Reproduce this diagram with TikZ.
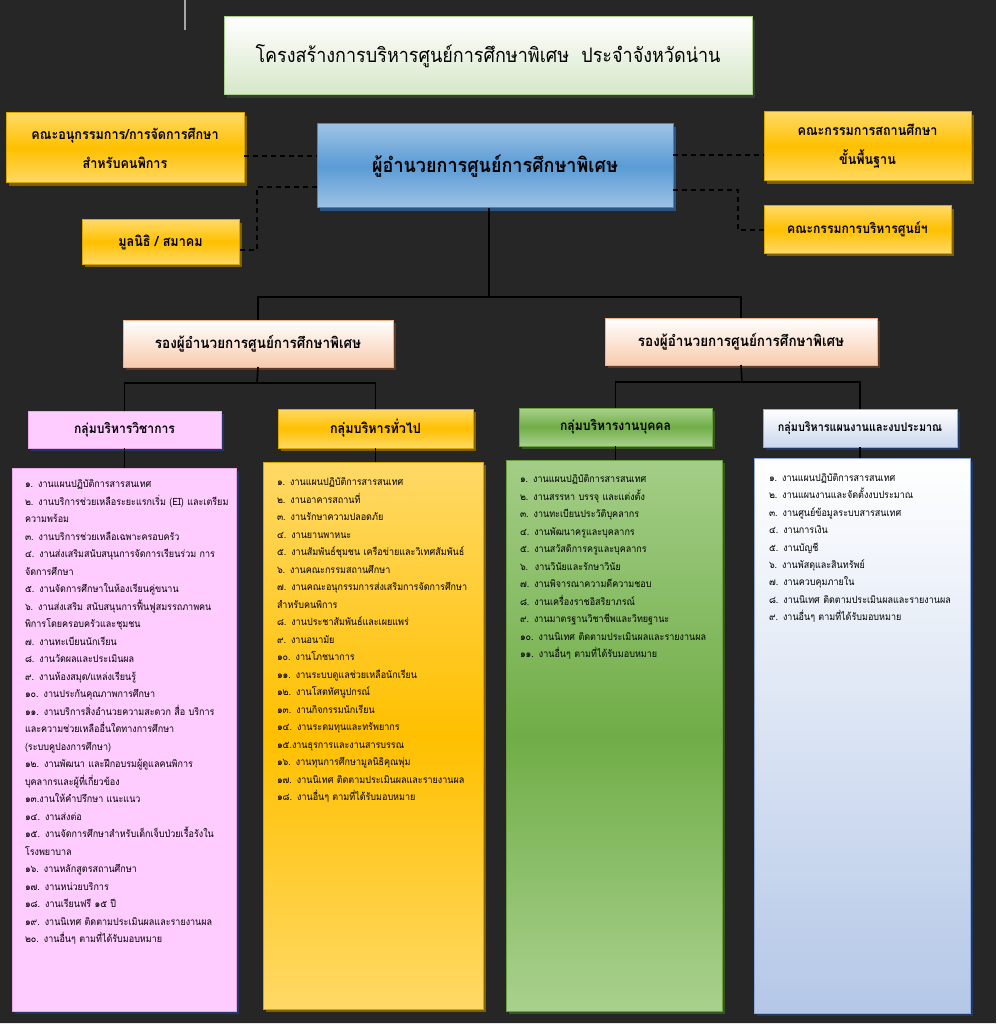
\documentclass[tikz,border=0pt]{standalone}
\usepackage{fontspec}
\setmainfont[Script=Thai, FakeStretch=0.9]{Loma}
\usetikzlibrary{shadows}
\definecolor{bg}{HTML}{262626}
\definecolor{ylo}{HTML}{FFD966}
\definecolor{yhi}{HTML}{FFC000}
\definecolor{yborder}{HTML}{D9A600}
\definecolor{yshadow}{HTML}{7F6000}
\definecolor{bluelo}{HTML}{9DC3E6}
\definecolor{bluehi}{HTML}{5B9BD5}
\definecolor{blueborder}{HTML}{4F81BD}
\definecolor{blueshadow}{HTML}{2C5480}
\definecolor{titlebot}{HTML}{D6E7C8}
\definecolor{titleborder}{HTML}{A9D18E}
\definecolor{titleshadow}{HTML}{34402C}
\definecolor{peach}{HTML}{F8CBAD}
\definecolor{peachborder}{HTML}{F4B183}
\definecolor{peachshadow}{HTML}{5E3A24}
\definecolor{pinkfill}{HTML}{FFCCFF}
\definecolor{pinkborder}{HTML}{E8A8E8}
\definecolor{navyshadow}{HTML}{1F3864}
\definecolor{glo}{HTML}{A9D18E}
\definecolor{ghi}{HTML}{70AD47}
\definecolor{gborder}{HTML}{6AA040}
\definecolor{gshadow}{HTML}{38561F}
\definecolor{bwbot}{HTML}{B4C7E7}
\definecolor{bwborder}{HTML}{8FAADC}
\begin{document}
\begin{tikzpicture}[x=1pt,y=-1pt,
  box/.style={draw, line width=1pt, inner sep=0pt, outer sep=0pt, anchor=north west, align=center},
  shad/.style={general shadow={fill=#1, shadow xshift=3pt, shadow yshift=-3pt}},
  ybox/.style={box, draw=yborder, top color=ylo, bottom color=ylo, middle color=yhi, shad=yshadow,
     font=\fontsize{14}{29}\selectfont\bfseries},
  depbox/.style={box, draw=peachborder, top color=white, bottom color=peach, shad=peachshadow,
     font=\fontsize{15}{18}\selectfont\bfseries},
  grpbox/.style={box, font=\fontsize{13.5}{16}\selectfont\bfseries},
  listtxt/.style={anchor=base west, inner sep=0pt, outer sep=0pt, align=left, text width=240pt,
     font=\fontsize{10}{17.5}\selectfont},
  conn/.style={draw=black, line width=1.6pt},
  dsh/.style={draw=black, line width=1.6pt, dash pattern=on 5pt off 4pt},
]
\fill[bg] (0,0) rectangle (996,1024);
\useasboundingbox (0,0) rectangle (996,1024);
\fill[black!10] (0,1022.5) rectangle (996,1024);
\draw[line width=1.5pt, black!35] (185,0) -- (185,30);

% top level
\node[box, draw=titleborder, top color=white, bottom color=titlebot, shad=titleshadow,
  minimum width=528, minimum height=78, font=\fontsize{20}{24}\selectfont] (title) at (224,17)
  {โครงสร้างการบริหารศูนย์การศึกษาพิเศษ\ \ ประจำจังหวัดน่าน};
\node[box, draw=blueborder, top color=bluelo, bottom color=bluelo, middle color=bluehi, shad=blueshadow,
  minimum width=356, minimum height=84, font=\fontsize{20}{24}\selectfont\bfseries] (dir) at (317,124)
  {ผู้อำนวยการศูนย์การศึกษาพิเศษ};
\node[ybox, minimum width=238, minimum height=70] (sub1) at (6,113)
  {คณะอนุกรรมการ/การจัดการศึกษา\\สำหรับคนพิการ};
\node[ybox, minimum width=157, minimum height=44] (found) at (82,220) {มูลนิธิ / สมาคม};
\node[ybox, minimum width=207, minimum height=69] (sub2) at (764,112)
  {คณะกรรมการสถานศึกษา\\ขั้นพื้นฐาน};
\node[ybox, minimum width=187, minimum height=47, font=\fontsize{13.5}{16}\selectfont\bfseries] (sub3) at (764,206) {คณะกรรมการบริหารศูนย์ฯ};

% deputies
\node[depbox, minimum width=270, minimum height=47] (depL) at (123,320) {รองผู้อำนวยการศูนย์การศึกษาพิเศษ};
\node[depbox, minimum width=272, minimum height=47] (depR) at (605,318) {รองผู้อำนวยการศูนย์การศึกษาพิเศษ};

% group headers
\node[grpbox, draw=pinkborder, fill=pinkfill, shad=navyshadow, minimum width=193, minimum height=37] (pinkH) at (28,411) {กลุ่มบริหารวิชาการ};
\node[grpbox, draw=yborder, top color=ylo, bottom color=ylo, middle color=yhi, shad=yshadow, minimum width=195, minimum height=39,
  font=\fontsize{14}{16}\selectfont\bfseries] (yelH) at (278,409) {กลุ่มบริหารทั่วไป};
\node[grpbox, draw=gborder, top color=glo, bottom color=glo, middle color=ghi, shad=gshadow, minimum width=193, minimum height=38] (grnH) at (519,408) {กลุ่มบริหารงานบุคคล};
\node[grpbox, draw=bwborder, top color=white, bottom color=bwbot!70, shad=navyshadow, minimum width=194, minimum height=38,
  font=\fontsize{12}{14}\selectfont\bfseries] (bluH) at (763,409) {กลุ่มบริหารแผนงานและงบประมาณ};

% list boxes
\node[box, draw=pinkborder, fill=pinkfill, shad=navyshadow, minimum width=224, minimum height=543] (pinkL) at (12,468) {};
\node[box, draw=yborder, top color=ylo, bottom color=ylo, middle color=yhi, shad=yshadow, minimum width=220, minimum height=547] (yelL) at (263,462) {};
\node[box, draw=gborder, top color=glo!90!ghi, bottom color=glo, middle color=ghi, shad=gshadow, minimum width=216, minimum height=551] (grnL) at (506,460) {};
\node[box, draw=bwborder, top color=white, bottom color=bwbot, shad=navyshadow, minimum width=216, minimum height=555] (bluL) at (754,458) {};

% list texts
\node[listtxt] (pinkT) at (25,487.5) {%
๑. งานแผนปฏิบัติการสารสนเทศ\\
๒. งานบริการช่วยเหลือระยะแรกเริ่ม (EI) และเตรียม\\
ความพร้อม\\
๓. งานบริการช่วยเหลือเฉพาะครอบครัว\\
๔. งานส่งเสริมสนับสนุนการจัดการเรียนร่วม การ\\
จัดการศึกษา\\
๕. งานจัดการศึกษาในห้องเรียนคู่ขนาน\\
๖. งานส่งเสริม สนับสนุนการฟื้นฟูสมรรถภาพคน\\
พิการโดยครอบครัวและชุมชน\\
๗. งานทะเบียนนักเรียน\\
๘. งานวัดผลและประเมินผล\\
๙. งานห้องสมุด/แหล่งเรียนรู้\\
๑๐. งานประกันคุณภาพการศึกษา\\
๑๑. งานบริการสิ่งอำนวยความสะดวก สื่อ บริการ\\
และความช่วยเหลืออื่นใดทางการศึกษา\\
(ระบบคูปองการศึกษา)\\
๑๒. งานพัฒนา และฝึกอบรมผู้ดูแลคนพิการ\\
บุคลากรและผู้ที่เกี่ยวข้อง\\
๑๓.งานให้คำปรึกษา แนะแนว\\
๑๔. งานส่งต่อ\\
๑๕. งานจัดการศึกษาสำหรับเด็กเจ็บป่วยเรื้อรังใน\\
โรงพยาบาล\\
๑๖. งานหลักสูตรสถานศึกษา\\
๑๗. งานหน่วยบริการ\\
๑๘. งานเรียนฟรี ๑๕ ปี\\
๑๙. งานนิเทศ ติดตามประเมินผลและรายงานผล\\
๒๐. งานอื่นๆ ตามที่ได้รับมอบหมาย};

\node[listtxt] (yelT) at (277,485.5) {%
๑. งานแผนปฏิบัติการสารสนเทศ\\
๒. งานอาคารสถานที่\\
๓. งานรักษาความปลอดภัย\\
๔. งานยานพาหนะ\\
๕. งานสัมพันธ์ชุมชน เครือข่ายและวิเทศสัมพันธ์\\
๖. งานคณะกรรมสถานศึกษา\\
๗. งานคณะอนุกรรมการส่งเสริมการจัดการศึกษา\\
สำหรับคนพิการ\\
๘. งานประชาสัมพันธ์และเผยแพร่\\
๙. งานอนามัย\\
๑๐. งานโภชนาการ\\
๑๑. งานระบบดูแลช่วยเหลือนักเรียน\\
๑๒. งานโสตทัศนูปกรณ์\\
๑๓. งานกิจกรรมนักเรียน\\
๑๔. งานระดมทุนและทรัพยากร\\
๑๕.งานธุรการและงานสารบรรณ\\
๑๖. งานทุนการศึกษามูลนิธิคุณพุ่ม\\
๑๗. งานนิเทศ ติดตามประเมินผลและรายงานผล\\
๑๘. งานอื่นๆ ตามที่ได้รับมอบหมาย};

\node[listtxt] (grnT) at (520,482.5) {%
๑. งานแผนปฏิบัติการสารสนเทศ\\
๒. งานสรรหา บรรจุ และแต่งตั้ง\\
๓. งานทะเบียนประวัติบุคลากร\\
๔. งานพัฒนาครูและบุคลากร\\
๕. งานสวัสดิการครูและบุคลากร\\
๖.\ \ งานวินัยและรักษาวินัย\\
๗. งานพิจารณาความดีความชอบ\\
๘. งานเครื่องราชอิสริยาภรณ์\\
๙. งานมาตรฐานวิชาชีพและวิทยฐานะ\\
๑๐. งานนิเทศ ติดตามประเมินผลและรายงานผล\\
๑๑. งานอื่นๆ ตามที่ได้รับมอบหมาย};

\node[listtxt, font=\fontsize{10}{17.4}\selectfont] (bluT) at (769,481.5) {%
๑. งานแผนปฏิบัติการสารสนเทศ\\
๒. งานแผนงานและจัดตั้งงบประมาณ\\
๓. งานศูนย์ข้อมูลระบบสารสนเทศ\\
๔. งานการเงิน\\
๕. งานบัญชี\\
๖. งานพัสดุและสินทรัพย์\\
๗. งานควบคุมภายใน\\
๘. งานนิเทศ ติดตามประเมินผลและรายงานผล\\
๙. งานอื่นๆ ตามที่ได้รับมอบหมาย};

% junction coordinates
\coordinate (j1) at (489,297);
\coordinate (jL) at (257,383);
\coordinate (jR) at (742,382);
\coordinate (jF) at (257,250);
\coordinate (jC) at (738,230);

% solid connectors
\draw[conn] (dir.south -| j1) -- (j1);
\draw[conn] (depL.north) |- (j1) -| (depR.north);
\draw[conn] (depL.south) -- (jL);
\draw[conn] (pinkH.north) |- (jL) -| (yelH.north);
\draw[conn] (depR.south) -- (jR);
\draw[conn] (grnH.north) |- (jR) -| (bluH.north);
\draw[conn] (pinkH.south) -- (pinkH.south |- pinkL.north);
\draw[conn] (yelH.south) -- (yelH.south |- yelL.north);
\draw[conn] (grnH.south) -- (grnH.south |- grnL.north);
\draw[conn] (bluH.south) -- (bluH.south |- bluL.north);

% dashed connectors
\draw[dsh] (sub1.east |- 0,156) -- (dir.west |- 0,156);
\draw[dsh] (dir.west |- 0,187) -| (jF) -- (found.east |- jF);
\draw[dsh] (dir.east |- 0,155) -- (sub2.west |- 0,155);
\draw[dsh] (dir.east |- 0,190) -| (jC) -- (sub3.west |- jC);
\end{tikzpicture}
\end{document}
